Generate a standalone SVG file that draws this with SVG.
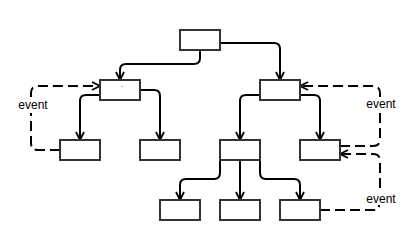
<svg xmlns="http://www.w3.org/2000/svg" width="417" height="250" viewBox="0 0 417 250">
<defs>
<marker id="arr" viewBox="0 0 10 10" refX="9" refY="5" markerWidth="10" markerHeight="10" markerUnits="userSpaceOnUse" orient="auto">
<path d="M1,1 L9,5 L1,9" fill="none" stroke="#000" stroke-width="1.8"/>
</marker>
<style>
.box{fill:#fff;stroke:#333;stroke-width:2}
.c{fill:none;stroke:#000;stroke-width:2;marker-end:url(#arr)}
.d{fill:none;stroke:#000;stroke-width:2;stroke-dasharray:10 5;marker-end:url(#arr)}
.d0{fill:none;stroke:#000;stroke-width:2;stroke-dasharray:10 5}
.t{font-family:"Liberation Sans",Arial,sans-serif;font-size:12px;fill:#000;text-anchor:middle}
</style>
</defs>
<rect width="417" height="250" fill="#fff"/>
<g id="connectors">
<path class="c" d="M200,50 V58 Q200,64 194,64 H126 Q120,64 120,70 V80"/>
<path class="c" d="M220,43 H274 Q280,43 280,49 V80"/>
<path class="c" d="M100,95 H86 Q80,95 80,101 V140"/>
<path class="c" d="M140,90 H154 Q160,90 160,96 V140"/>
<path class="c" d="M260,95 H246 Q240,95 240,101 V140"/>
<path class="c" d="M300,95 H314 Q320,95 320,101 V140"/>
<path class="c" d="M220,160 V173 Q220,179 214,179 H186 Q180,179 180,185 V200"/>
<path class="c" d="M240,160 V200"/>
<path class="c" d="M260,160 V173 Q260,179 266,179 H294 Q300,179 300,185 V200"/>
<path class="d0" d="M60,150 H38 Q31,150 31,143 V113"/>
<path class="d" d="M31,97 V93 Q31,86 38,86 H100"/>
<path class="d0" d="M340,146 H373 Q380,146 380,139 V113"/>
<path class="d" d="M380,97 V93 Q380,86 373,86 H300"/>
<path class="d0" d="M320,210 H374 Q379,210 379,205"/>
<path class="d" d="M380,188 V161 Q380,154 373,154 H340"/>
</g>
<g id="n0"><rect class="box" x="180" y="30" width="40" height="20"/></g>
<g id="n1"><rect class="box" x="100" y="80" width="40" height="20"/><text x="121" y="91" style="font-family:'Liberation Sans',sans-serif;font-size:8px">`</text></g>
<g id="n2"><rect class="box" x="260" y="80" width="40" height="20"/></g>
<g id="n3"><rect class="box" x="60" y="140" width="40" height="20"/></g>
<g id="n4"><rect class="box" x="140" y="140" width="40" height="20"/></g>
<g id="n5"><rect class="box" x="220" y="140" width="40" height="20"/></g>
<g id="n6"><rect class="box" x="300" y="140" width="40" height="20"/></g>
<g id="n7"><rect class="box" x="160" y="200" width="40" height="20"/></g>
<g id="n8"><rect class="box" x="220" y="200" width="40" height="20"/></g>
<g id="n9"><rect class="box" x="280" y="200" width="40" height="20"/></g>
<g id="labels">
<text class="t" x="33" y="109">event</text>
<text class="t" x="381" y="108">event</text>
<text class="t" x="381" y="203">event</text>
</g>
</svg>
